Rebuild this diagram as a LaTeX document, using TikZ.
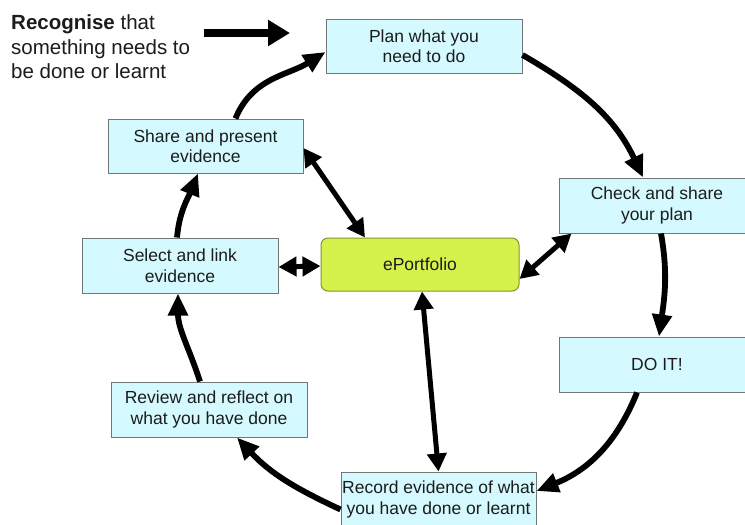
\documentclass[tikz,border=0pt]{standalone}
\usepackage{fontspec}
\setmainfont{Liberation Sans}
\usetikzlibrary{arrows.meta}
\definecolor{boxfill}{RGB}{212,250,255}
\definecolor{boxline}{RGB}{110,120,120}
\definecolor{epfill}{RGB}{213,242,76}
\definecolor{epline}{RGB}{130,150,50}
\definecolor{txt}{RGB}{28,28,28}
\newcommand{\boxfont}{\fontsize{17.5}{20.5}\selectfont}
\tikzset{
  stepbox/.style={draw=boxline, fill=boxfill, line width=1pt, minimum width=196pt,
    minimum height=54pt, inner sep=0pt, align=center, font=\boxfont, text=txt},
  epbox/.style={draw=epline, fill=epfill, line width=1pt, rounded corners=7pt,
    minimum width=198pt, minimum height=53pt, inner sep=0pt, align=center,
    font=\boxfont, text=txt},
  flow/.style={line width=5.8pt, -{Triangle[length=22pt,width=19pt]}},
  both/.style={line width=5pt, {Triangle[length=18pt,width=19pt]}-{Triangle[length=18pt,width=19pt]}},
}
\begin{document}
\begin{tikzpicture}[x=1pt,y=1pt]
\useasboundingbox (0,-525) rectangle (745,0);
\fill[white] (0,-525) rectangle (745,0);
\clip (0,-525) rectangle (745,0);

\node[anchor=north west, inner sep=0pt, align=left, text=txt,
  font=\fontsize{20.5}{24.5}\selectfont] (rec) at (11,-14.5)
  {\textbf{Recognise} that\\something needs to\\be done or learnt};
\coordinate (ra) at (204,-33);
\coordinate (rb) at (290,-33);
\draw[line width=7.5pt, -{Triangle[length=22pt,width=25pt]}] (ra) -- (rb);

\node[stepbox] (plan) at (424,-46) {Plan what you\\need to do};
\node[stepbox, minimum width=195pt] (share) at (205.5,-146) {Share and present\\evidence};
\node[stepbox, minimum height=55pt] (check) at (657,-205.5) {Check and share\\your plan};
\node[stepbox, minimum height=55pt] (select) at (180,-265.5) {Select and link\\evidence};
\node[epbox] (ep) at (420,-264.5) {ePortfolio};
\node[stepbox, minimum height=55pt] (doit) at (657,-364.5) {DO IT!};
\node[stepbox, minimum height=55pt] (review) at (209,-409.5) {Review and reflect on\\what you have done};
\node[stepbox, minimum width=195pt, minimum height=55pt] (record) at (438.5,-499.5) {Record evidence of what\\you have done or learnt};

% cycle
\draw[flow] ([yshift=-9pt]plan.east) to[out=-30,in=115] ([xshift=-14pt]check.north);
\draw[flow] ([xshift=4pt]check.south) to[out=-80,in=82] ([xshift=2pt]doit.north);
\draw[flow] ([xshift=-20pt]doit.south) to[out=-112,in=22] ([yshift=8.5pt]record.east);
\draw[flow] ([yshift=-10pt]record.west) to[out=155,in=-47] ([xshift=28pt]review.south);
\draw[flow] ([xshift=-9pt]review.north) to[out=108,in=-90] ([xshift=-2pt]select.south);
\draw[flow] ([xshift=-3pt]select.north) to[out=85,in=-112] ([xshift=-7.5pt]share.south);
\draw[flow] ([xshift=30pt]share.north) to[out=68,in=-148] ([yshift=-6pt]plan.west);

% links with ePortfolio
\draw[both] ([yshift=-2pt]share.east) -- ([xshift=-55pt]ep.north);
\draw[both] ([yshift=-1.5pt]select.east) -- ([yshift=-1.5pt]ep.west);
\draw[both] ([yshift=-14.5pt]ep.east) -- ([xshift=13pt]check.south west);
\draw[both] ([xshift=2pt]ep.south) -- (record.north);
\end{tikzpicture}
\end{document}
